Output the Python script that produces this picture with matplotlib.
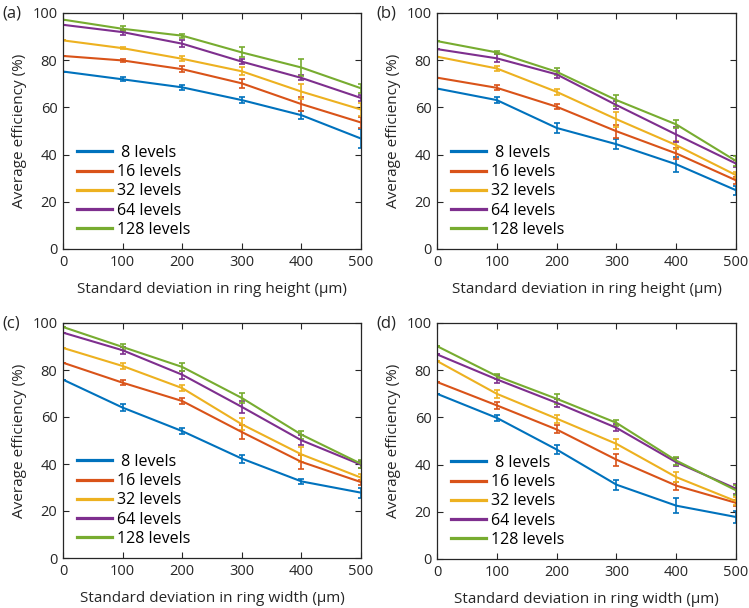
import matplotlib
matplotlib.use('Agg')
import matplotlib.pyplot as plt
from matplotlib.lines import Line2D

plt.rcParams['font.family'] = ['Open Sans', 'DejaVu Sans']

x = [0, 100, 200, 300, 400, 500]
labels = [' 8 levels', '16 levels', '32 levels', '64 levels', '128 levels']
colors = ['#0072BD', '#D95319', '#EDB120', '#7E2F8E', '#77AC30']

# (a) ring height
a_vals = [
    [75.2, 71.9, 68.5, 63.1, 56.7, 46.8],
    [81.8, 79.9, 76.2, 70.2, 61.4, 53.6],
    [88.4, 85.1, 80.6, 75.3, 66.7, 59.1],
    [95.0, 91.9, 87.0, 79.4, 72.5, 64.0],
    [97.2, 93.3, 90.4, 83.3, 76.9, 68.1],
]
a_err = [
    [0, 0.8, 1.1, 1.1, 1.7, 4.0],
    [0, 0.6, 1.3, 1.8, 2.8, 2.5],
    [0, 0.5, 1.1, 1.7, 3.1, 2.8],
    [0, 1.1, 1.4, 1.1, 1.1, 1.4],
    [0, 1.0, 0.8, 2.1, 3.5, 1.8],
]

# (b) ring height
b_vals = [
    [68.0, 63.1, 51.3, 44.4, 35.9, 24.9],
    [72.6, 68.3, 60.3, 49.9, 40.5, 29.1],
    [81.5, 76.5, 66.6, 55.0, 44.0, 31.3],
    [84.7, 80.8, 74.0, 61.0, 48.5, 36.2],
    [88.1, 83.3, 75.1, 63.1, 52.8, 37.3],
]
b_err = [
    [0, 1.1, 2.3, 2.0, 3.1, 2.0],
    [0, 1.1, 1.1, 2.8, 2.5, 1.4],
    [0, 1.1, 1.4, 3.1, 1.7, 1.4],
    [0, 1.7, 1.4, 1.7, 3.1, 1.4],
    [0, 0.8, 1.4, 2.3, 1.7, 2.3],
]

# (c) ring width
c_vals = [
    [75.9, 64.0, 54.0, 42.3, 32.6, 27.8],
    [83.1, 74.6, 66.8, 53.6, 40.9, 32.3],
    [89.4, 81.7, 72.3, 56.9, 44.1, 34.2],
    [95.9, 88.4, 78.0, 64.3, 50.1, 39.7],
    [98.3, 89.8, 81.3, 68.1, 52.5, 40.1],
]
c_err = [
    [0, 1.4, 1.3, 1.7, 1.1, 2.1],
    [0, 1.1, 1.4, 2.8, 3.1, 1.1],
    [0, 1.1, 1.4, 2.6, 3.1, 1.4],
    [0, 1.4, 1.7, 2.6, 2.1, 1.4],
    [0, 1.4, 1.7, 2.3, 1.7, 1.7],
]

# (d) ring width
d_vals = [
    [70.0, 59.8, 46.4, 31.5, 22.6, 17.8],
    [75.0, 65.1, 54.9, 42.1, 31.1, 23.8],
    [83.9, 70.0, 59.5, 48.8, 34.7, 24.5],
    [86.7, 76.1, 66.2, 55.6, 41.0, 29.8],
    [90.2, 77.5, 67.9, 57.7, 41.7, 29.1],
]
d_err = [
    [0, 1.4, 2.1, 2.1, 3.1, 2.5],
    [0, 1.4, 1.7, 2.5, 1.7, 1.4],
    [0, 1.7, 1.7, 2.1, 2.1, 1.7],
    [0, 1.7, 1.7, 1.4, 1.7, 2.1],
    [0, 1.1, 2.1, 1.4, 1.7, 2.1],
]

panels = [
    ('(a)', a_vals, a_err, 'Standard deviation in ring height (\u03bcm)', [63, 13, 361, 249]),
    ('(b)', b_vals, b_err, 'Standard deviation in ring height (\u03bcm)', [437, 13, 736, 249]),
    ('(c)', c_vals, c_err, 'Standard deviation in ring width (\u03bcm)', [63, 323, 361, 558]),
    ('(d)', d_vals, d_err, 'Standard deviation in ring width (\u03bcm)', [437, 323, 736, 559]),
]

W, H = 749, 608
fig = plt.figure(figsize=(W / 100, H / 100), dpi=100)
dark = '#262626'

for tag, vals, errs, xlab, (l, t, r, b) in panels:
    ax = fig.add_axes([l / W, 1 - b / H, (r - l) / W, (b - t) / H])
    for v, e, c in zip(vals, errs, colors):
        ax.errorbar(x, v, yerr=e, color=c, lw=1.5, elinewidth=1.2,
                    capsize=2.5, capthick=1.2)
    ax.set_xlim(0, 500)
    ax.set_ylim(0, 100)
    ax.set_xticks(x)
    ax.set_yticks([0, 20, 40, 60, 80, 100])
    ax.tick_params(direction='in', top=True, right=True, labelsize=10.5, length=4,
                   color=dark, labelcolor=dark, pad=4)
    for s in ax.spines.values():
        s.set_color(dark)
        s.set_linewidth(0.9)
    ax.set_xlabel(xlab, fontsize=11, color=dark, labelpad=9)
    ax.set_ylabel('Average efficiency (%)', fontsize=11, color=dark, labelpad=4)
    # legend shows plain lines, no error bars
    handles = [Line2D([], [], color=c, lw=2.3) for c in colors]
    ax.legend(handles, labels, loc='lower left', frameon=False, fontsize=11.5,
              handlelength=2.2, handletextpad=0.3, labelspacing=0.2,
              borderaxespad=0.3, bbox_to_anchor=(0.01, 0.0))
    fig.text((l - 61) / W, 1 - t / H, tag, fontsize=12, ha='left', va='center',
             color=dark)

fig.savefig('out.png', dpi=100)
